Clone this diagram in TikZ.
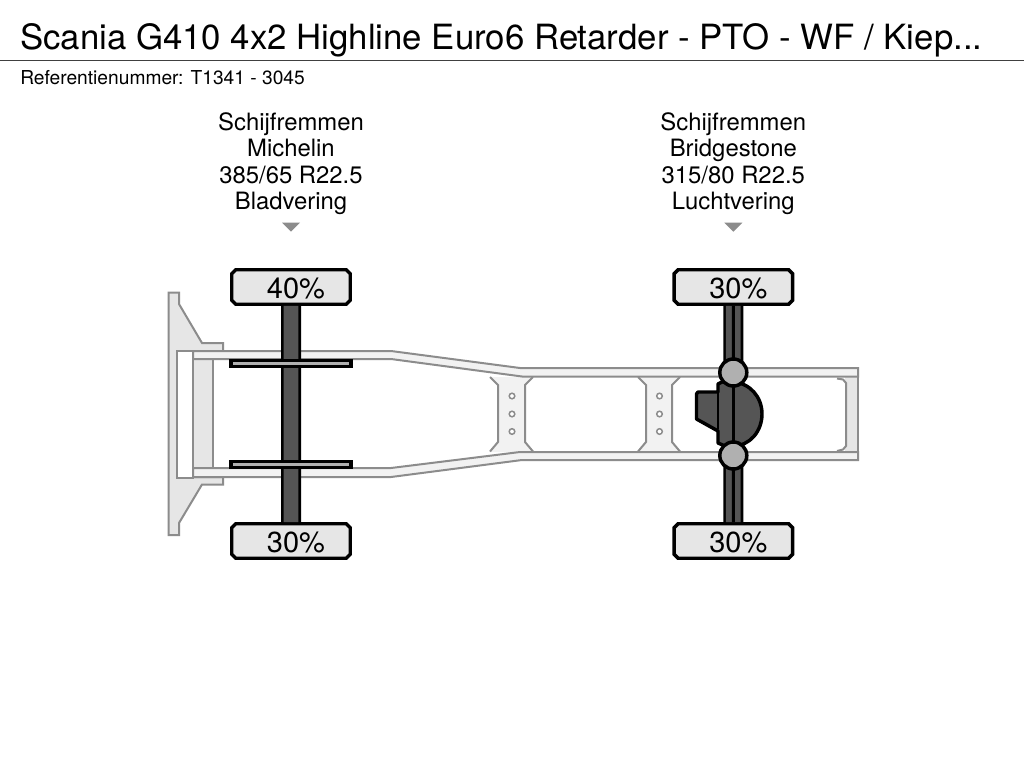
\documentclass[tikz,border=0pt]{standalone}
\usepackage{fontspec}
\setmainfont{TeX Gyre Heros}
\usetikzlibrary{shapes.misc}
\definecolor{framegray}{HTML}{8C8C8C}
\definecolor{framefill}{HTML}{F2F2F2}
\definecolor{platefill}{HTML}{E6E6E6}
\definecolor{axlefill}{HTML}{555555}
\definecolor{hubfill}{HTML}{B0B0B0}
\begin{document}
\begin{tikzpicture}
[x=0.75pt,y=-0.75pt,
  framedecorate/.style={draw=framegray,line width=1.5pt,fill=framefill,line join=miter},%
  platedecorate/.style={draw=framegray,line width=1.5pt,fill=platefill},%
  bracketdecorate/.style={draw=framegray,line width=1.5pt},%
  tiredecorate/.style={shape=chamfered rectangle,chamfered rectangle xsep=1.5pt,chamfered rectangle ysep=1.5pt,
    draw=black,line width=2.6pt,fill=platefill,minimum width=118.5*0.75pt,minimum height=34.5*0.75pt,
    inner sep=0pt,font=\fontsize{21.75pt}{24pt}\selectfont},%
  axledecorate/.style={line width=15pt,draw=black},%
  axlecore/.style={line width=11pt,draw=axlefill},%
  springdecorate/.style={draw=black,line width=2.6pt,fill=hubfill},%
  specdecorate/.style={align=center,font=\fontsize{17.9pt}{19.75pt}\selectfont,inner sep=0pt},%
  hubdecorate/.style={shape=circle,draw=black,line width=2.6pt,fill=hubfill,minimum size=27*0.75pt,inner sep=0pt},%
  markerdecorate/.style={fill=framegray,draw=none}]
\fill[white] (0,0) rectangle (1024,768);
\useasboundingbox (0,0) rectangle (1024,768);
%% heading
\node (title) at (20,49) [anchor=base west,inner sep=0pt,font=\fontsize{26.08pt}{28pt}\selectfont]
  {Scania G410 4x2 Highline Euro6 Retarder - PTO - WF / Kiep...};
\node (reference) at (20,84.5) [anchor=base west,inner sep=0pt,font=\fontsize{14.4pt}{16pt}\selectfont]
  {Referentienummer: T1341 - 3045};
\coordinate (ruleleft) at (0,60.5);
\coordinate (ruleright) at (1024,60.5);
\draw[draw=black!75,line width=0.9pt] (ruleleft) -- (ruleright);
%% front plate and cross members
\draw[platedecorate] (168.5,292.5) -- (179,292.5) -- (179,304) -- (202,343) -- (223,343) -- (223,351)
  -- (193,351) -- (193,477) -- (223,477) -- (223,484.5) -- (202,484.5) -- (179,523) -- (179,535)
  -- (168.5,535) -- cycle;
\draw[draw=framegray,line width=1.5pt,fill=white] (177,350.5) rectangle (193,477.5);
\draw[platedecorate] (193,359) rectangle (212.5,468);
\fill[platefill] (845,377) rectangle (858,452);
\fill[framefill] (490,377) -- (533,377) -- (525,385) -- (525,442) -- (533,452) -- (490,452) -- (498,442) -- (498,385) -- cycle;
\fill[framefill] (638,377) -- (680,377) -- (672,385) -- (672,442) -- (680,452) -- (638,452) -- (646,442) -- (646,385) -- cycle;
%% rails
\draw[framedecorate] (193,351) -- (391,351) -- (520,368) -- (858,368) -- (858,376.5) -- (522,376.5) -- (391,359) -- (193,359) -- cycle;
\draw[framedecorate] (193,468) -- (391,468) -- (520,452) -- (858,452) -- (858,460) -- (522,460) -- (391,477) -- (193,477) -- cycle;
\draw[draw=framegray,line width=1.5pt] (858,376.5) -- (858,452);
%% brackets
\foreach \startx/\bendx in {490/498, 533/525, 638/646, 680/672} {
  \draw[bracketdecorate] (\startx,377) -- (\bendx,385) -- (\bendx,442) -- (\startx,451.5);
}
\draw[bracketdecorate] (837,378.5) -- (843,379.5) -- (846,383) -- (846,446) -- (843,449.5) -- (837,451);
\foreach \holex in {512, 659.5} {
  \foreach \holey in {396, 414, 431.5} {
    \node (hole-\holex-\holey) at (\holex,\holey) [shape=circle,draw=framegray,line width=1.1pt,fill=white,minimum size=4.2pt,inner sep=0pt] {};
  }
}
%% tyres with their loads
\foreach \nodename/\x/\y/\load in {fronttop/291/287/40, frontbottom/291/541/30,
  reartop/733.3/287/30, rearbottom/733.3/541/30} {
  \node (\nodename) at (\x,\y) [tiredecorate] {\hspace*{7.5pt}\rule{0pt}{18.4pt}\load\%};
}
%% axles
\draw[axledecorate] (fronttop) -- (frontbottom);
\draw[axlecore] (fronttop) -- (frontbottom);
\draw[axledecorate] (reartop) -- (rearbottom);
\draw[axlecore] (reartop) -- (rearbottom);
\draw[draw=black,line width=2.25pt] (reartop) -- (rearbottom);
%% leaf springs
\foreach \y in {360.5, 461.5} {
  \draw[springdecorate] (231,\y) rectangle (351,\y+6);
}
%% differential
\draw[draw=black,line width=2.6pt,fill=axlefill,line join=round]
  (718,392) -- (698,392) -- (696.5,394) -- (696.5,419) -- (718,431) -- (718,443) -- (725,446)
  -- (733,446) .. controls (750,446) and (762,431) .. (762,414) .. controls (762,397) and (750,383) .. (733,382)
  -- (722,382) -- (718,384) -- cycle;
\coordinate (splittop) at (718,392);
\coordinate (splitbottom) at (718,429);
\draw[draw=black,line width=1.6pt] (splittop) -- (splitbottom);
\coordinate (shafttop) at (733,382);
\coordinate (shaftbottom) at (733,446);
\draw[draw=black,line width=2.25pt] (shafttop) -- (shaftbottom);
\node (hubtop) at (733.3,372.5) [hubdecorate] {};
\node (hubbottom) at (733.3,455.5) [hubdecorate] {};
%% axle descriptions
\foreach \nodename/\x/\make/\size/\suspension in {frontspec/291/Michelin/385\slash 65 R22.5/Bladvering,
  rearspec/733.3/Bridgestone/315\slash 80 R22.5/Luchtvering} {
  \node (\nodename) at (\x,163.7) [specdecorate] {Schijfremmen\\\make\\\size\\\suspension};
  \fill[markerdecorate] (\x-9,222.7) -- (\x+9,222.7) -- (\x,231.7) -- cycle;
}
\end{tikzpicture}
\end{document}
